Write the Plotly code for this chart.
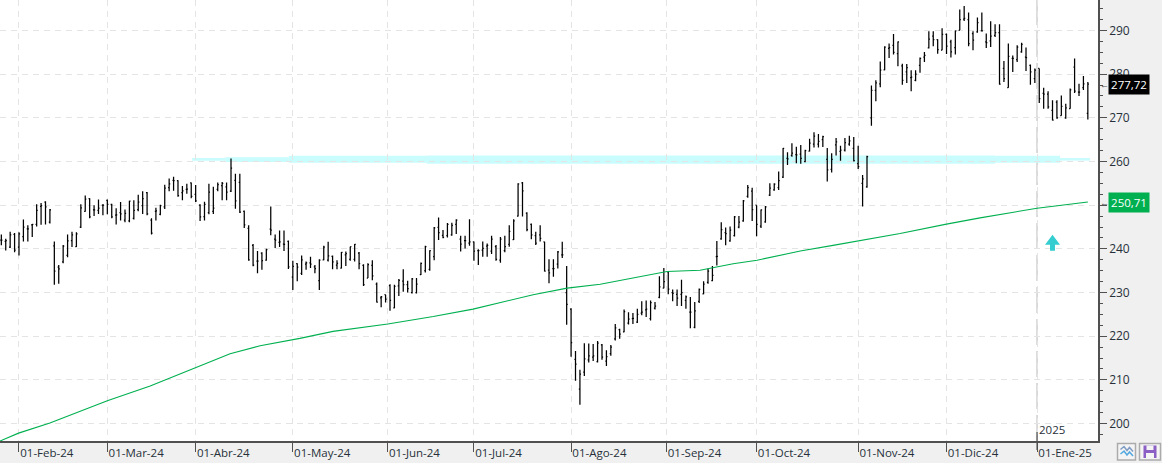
import plotly.graph_objects as go

highs = [
243.3,242.3,243.9,243.6,243.8,246.7,245.4,245.7,250.2,250.5,
250.9,249.1,241.7,236.3,240.9,243.3,243.9,243.8,250.2,252.2,
251.6,250.0,251.3,250.2,251.3,250.3,249.3,250.7,249.0,251.0,
251.1,252.4,253.2,253.0,247.0,249.4,250.1,254.7,256.1,256.5,
255.7,254.4,254.9,255.2,254.6,250.2,250.8,254.9,254.2,255.2,
255.3,255.2,260.7,257.2,257.2,248.8,245.4,241.1,239.5,239.2,
240.0,249.7,243.3,244.2,244.2,241.9,237.3,236.7,238.5,237.1,
238.2,236.3,237.6,240.7,241.6,238.5,237.4,239.3,239.4,240.5,
241.1,239.3,236.5,236.7,237.4,232.3,229.2,229.5,231.9,231.8,
233.1,235.3,232.7,233.3,233.3,236.9,240.7,239.7,245.0,247.2,
244.3,245.9,246.0,246.8,243.0,243.0,246.8,241.7,239.9,241.7,
241.2,243.0,240.9,242.7,243.0,245.4,246.8,255.0,255.3,248.4,
245.8,243.9,245.4,241.6,237.6,237.6,239.5,241.6,236.1,226.4,
216.6,212.3,218.4,218.3,218.2,218.9,218.2,216.8,218.0,222.8,
221.7,226.1,225.5,225.3,226.3,228.0,228.2,228.2,227.8,233.7,
235.6,234.9,230.7,230.7,232.9,229.3,229.0,227.8,230.9,232.6,
235.5,236.1,241.8,246.1,244.9,245.1,247.5,247.5,251.2,254.6,
254.0,250.0,249.0,249.8,255.0,255.0,257.7,263.1,262.1,264.2,
263.4,263.8,262.7,265.2,266.7,266.3,265.9,263.1,261.9,265.4,
263.6,265.4,265.9,265.6,263.6,256.9,261.3,277.4,278.6,282.9,
286.4,287.0,289.2,287.5,282.4,282.3,280.9,280.9,283.8,285.1,
289.8,289.8,288.0,290.5,289.3,287.9,290.0,294.8,295.6,294.1,
289.8,293.0,294.1,289.3,292.1,291.4,291.4,283.0,287.0,284.3,
286.6,287.2,286.1,282.2,281.3,281.3,276.9,276.1,274.0,274.0,
275.1,273.2,276.7,283.6,277.8,279.6,278.2,
]
lows = [
240.8,239.6,240.2,239.2,238.5,241.7,241.7,242.7,245.1,245.5,
245.6,245.8,231.8,232.0,236.7,238.1,240.4,240.4,244.8,248.5,
247.0,247.5,248.0,247.7,247.9,247.0,245.6,246.5,246.1,246.1,
246.7,248.6,248.0,247.7,243.3,246.5,247.7,249.1,253.2,253.3,
251.9,251.1,252.6,251.6,250.7,246.4,246.5,247.9,248.0,253.2,
251.1,251.1,253.0,249.2,248.2,244.8,237.3,236.0,234.4,235.2,
237.3,243.1,240.2,240.4,239.5,235.4,230.6,232.6,234.0,235.2,
235.6,234.4,230.6,237.4,237.1,235.3,235.3,235.5,236.1,237.3,
237.1,235.3,231.5,233.3,232.8,227.7,226.6,227.7,225.8,226.4,
229.2,230.2,230.0,229.8,229.8,234.0,234.6,235.0,237.4,242.0,
242.4,242.6,243.0,243.4,239.4,240.1,240.7,237.3,236.3,238.2,
238.2,238.8,237.3,236.8,239.2,240.5,242.0,247.4,247.4,244.0,
242.2,240.9,241.7,234.8,232.1,233.6,235.5,237.9,222.6,215.3,
209.8,204.3,210.9,214.0,214.3,214.0,214.6,213.2,215.5,219.0,
219.4,220.9,222.7,222.8,223.0,224.8,224.4,223.6,226.1,228.7,
231.0,229.6,228.0,226.9,226.9,226.3,221.8,221.8,227.6,229.6,
232.0,232.6,236.2,242.1,240.8,241.6,242.8,244.7,246.2,251.7,
246.4,242.9,244.8,246.0,252.1,253.3,253.5,256.2,259.2,261.1,
259.6,259.5,259.8,262.3,263.2,263.2,263.3,255.4,257.5,261.4,
260.2,262.3,263.6,260.0,258.3,249.7,254.0,268.2,273.8,277.0,
280.9,283.7,284.5,281.8,277.6,278.0,276.1,278.4,280.3,282.8,
285.9,286.4,284.7,285.5,284.6,283.8,284.5,290.1,292.2,286.4,
285.5,289.5,289.9,286.0,286.2,288.5,277.6,278.2,276.9,280.5,
282.8,284.9,280.7,277.6,278.0,273.4,272.1,272.1,269.4,269.8,
270.5,269.8,272.1,275.7,275.0,276.4,269.6,
]
opens = [
242.0,241.7,240.4,243.3,240.4,242.8,244.6,245.5,245.6,249.7,
250.7,246.1,240.7,235.8,237.0,238.5,241.9,240.5,245.0,248.6,
251.5,248.9,248.8,250.0,251.1,250.2,247.7,248.3,246.6,246.4,
247.0,249.0,249.9,252.9,246.6,248.6,247.9,249.6,254.0,255.7,
255.6,252.9,253.6,255.1,252.5,250.0,247.4,248.3,248.6,253.6,
254.5,254.2,253.2,255.7,255.2,248.6,244.7,240.8,237.2,239.0,
237.4,244.5,242.2,241.5,241.1,241.7,233.5,236.6,234.4,236.5,
236.8,235.9,232.7,237.5,237.4,238.3,236.3,235.6,238.6,237.6,
237.6,239.0,236.2,233.3,236.2,231.9,228.8,229.5,231.6,226.5,
231.5,232.6,231.8,230.0,230.0,234.1,235.0,235.3,238.2,244.9,
243.1,243.0,243.2,245.6,242.2,241.9,241.3,241.6,239.6,239.7,
240.6,239.5,240.5,237.4,239.6,241.0,242.1,247.5,255.1,248.2,
245.6,243.0,243.2,241.6,235.1,235.5,236.5,238.6,230.0,226.2,
214.7,207.9,211.8,214.6,215.2,214.2,218.0,214.3,216.0,219.4,
221.5,221.0,223.0,224.0,223.2,225.3,226.0,224.0,226.4,228.9,
231.0,234.7,230.0,229.6,229.6,228.2,225.5,222.0,228.0,229.7,
232.3,232.7,238.2,242.3,243.7,241.8,243.0,245.0,246.4,252.0,
253.2,250.0,245.2,246.2,252.3,253.5,254.0,256.4,260.7,261.4,
261.6,261.7,260.0,262.4,264.0,264.0,265.0,260.5,258.2,263.8,
262.3,262.6,264.0,263.0,259.5,255.0,254.2,270.0,276.3,277.8,
281.0,285.9,286.6,284.7,281.9,280.5,279.2,278.6,282.0,283.9,
286.0,288.7,287.9,285.5,289.1,287.4,286.1,290.0,292.6,292.5,
289.3,289.7,289.9,287.4,287.6,288.9,289.5,281.3,276.9,283.6,
283.3,285.1,283.9,282.0,279.0,281.3,275.6,275.4,271.7,273.6,
270.5,270.0,272.1,281.6,275.9,276.9,271.0,
]
closes = [
242.0,241.9,243.2,239.7,243.4,245.0,244.6,245.6,248.8,249.9,
249.6,248.9,234.9,235.4,240.6,241.8,243.2,243.4,249.4,251.4,
247.3,248.9,249.3,250.0,250.2,247.3,247.8,248.0,248.1,250.9,
248.8,250.7,251.5,248.0,243.6,248.7,249.9,253.9,254.9,255.6,
252.2,253.3,253.7,252.0,251.0,247.3,250.2,253.0,249.3,254.7,
255.0,253.0,258.5,251.0,248.4,245.5,237.5,236.3,237.2,237.3,
239.8,244.3,242.0,241.6,241.0,235.9,236.0,235.8,237.5,236.8,
236.5,235.5,237.4,240.4,238.4,237.0,236.7,239.2,238.9,240.5,
241.0,236.6,231.8,236.4,233.8,227.8,229.0,228.5,228.2,231.4,
232.8,231.8,230.9,233.1,231.9,236.7,240.5,239.6,244.8,243.7,
242.6,245.6,245.4,246.6,241.1,241.9,241.6,239.5,239.6,240.1,
240.8,242.2,237.6,242.2,240.5,244.0,246.4,254.9,253.3,244.4,
243.2,241.3,242.4,234.9,234.5,235.5,239.3,238.6,227.3,218.5,
213.6,211.3,214.8,215.5,215.5,218.4,215.2,215.3,217.5,221.9,
220.5,225.6,223.9,224.1,225.0,225.5,226.2,227.7,226.9,231.3,
232.5,230.8,229.8,228.7,230.0,229.0,225.5,225.8,230.7,231.9,
234.9,233.9,238.3,244.4,243.5,244.3,247.3,246.1,251.0,254.0,
249.0,245.6,248.9,249.6,253.9,254.8,255.6,263.0,260.6,261.9,
261.5,260.7,262.5,264.2,265.8,264.6,265.7,258.1,260.5,264.5,
262.6,264.3,264.7,260.2,258.8,256.0,261.1,276.3,278.0,280.9,
286.2,286.1,285.0,287.4,278.6,281.5,279.3,280.0,283.6,284.3,
288.0,287.9,285.6,289.1,286.4,285.1,289.9,292.5,292.8,287.0,
287.8,291.8,289.9,287.2,288.7,289.5,277.7,279.0,284.1,283.6,
286.2,286.8,283.8,280.5,280.9,274.4,275.4,272.5,269.5,270.0,
272.6,272.3,276.4,276.1,275.9,277.8,277.72,
]
bar_index = list(range(len(closes)))

ma_index = [-0.3,3.9,11,24,33.7,43.9,51.8,58.6,67.6,75.1,87.5,97.8,106.8,120.4,128.1,135.6,143,
            150.7,158.2,165.7,171.1,180.9,188.3,199,203.5,213.7,221.6,234.5,246]
ma_values = [196.0,197.8,200.1,205.2,208.6,212.7,216.0,217.8,219.5,221.1,222.8,224.5,226.2,229.5,231.0,231.9,233.4,
             234.8,235.1,236.6,237.4,239.5,240.8,242.6,243.5,245.6,247.1,249.3,250.71]

band_edges = [43.2,50.7,65.1,96.4,225,239.7,246.5]
band_top = [260.8,261.0,261.3,261.4,261.3,261.0]
band_bottom = [260.2,259.9,259.7,259.5,259.7,259.9]
band_tail_top = 260.8
band_tail_bottom = 260.2

month_ticks = [4,24,44,66,87.5,107,129,150.6,171,194,214,234.5]
month_labels = ["01-Feb-24","01-Mar-24","01-Abr-24","01-May-24","01-Jun-24","01-Jul-24","01-Ago-24",
                "01-Sep-24","01-Oct-24","01-Nov-24","01-Dic-24","01-Ene-25"]
price_ticks = [200,210,220,230,240,250,260,270,280,290]
last_price = 277.72
last_ma = 250.71

W, H, PW, PH = 1162, 463, 1098, 441
FONT = "Open Sans"
px = lambda v: v / PW
py = lambda v: (PH - v) / PH

shapes = []
for i in range(len(band_top)):
    shapes.append(dict(type="rect", xref="x", yref="y", x0=band_edges[i], x1=band_edges[i + 1],
                       y0=band_bottom[i], y1=band_top[i],
                       fillcolor="#c9fcfd", line_width=0, layer="below"))
shapes[-1].update(y0=band_tail_bottom, y1=band_tail_top)
# year boundary
shapes.append(dict(type="line", xref="x", yref="paper", x0=month_ticks[-1], x1=month_ticks[-1], y0=0, y1=1,
                   line=dict(color="#cfcfcf", width=1.5, dash="26px,6px"), layer="below"))
shapes.append(dict(type="line", xref="x", yref="paper", x0=month_ticks[-1], x1=month_ticks[-1], y0=py(450), y1=py(432),
                   line=dict(color="#505050", width=1.2)))
# signal arrow
shapes.append(dict(type="path", xref="x", yref="y", xsizemode="pixel", ysizemode="pixel",
                   xanchor=238, yanchor=241.4,
                   path="M 0 8 L 7.5 -2 L 2.5 -2 L 2.5 -8 L -2.5 -8 L -2.5 -2 L -7.5 -2 Z",
                   fillcolor="#35cdd0", line_width=0))
# toolbar buttons
def box(x0, y0, x1, y1, **kw):
    shapes.append(dict(type="rect", xref="paper", yref="paper", x0=px(x0), x1=px(x1), y0=py(y0), y1=py(y1), **kw))
box(1117.5, 443.5, 1135.5, 460, fillcolor="#f4f4f4", line=dict(color="#ababab", width=1.5))
box(1139.5, 443.5, 1160.5, 460, fillcolor="#f4f4f4", line=dict(color="#ababab", width=1.5))
box(1143.5, 445.5, 1156.5, 458, fillcolor="#8b5fc4", line_width=0)
box(1146.5, 445.5, 1153.5, 450, fillcolor="#f4f4f4", line_width=0)
box(1146, 453, 1154, 458, fillcolor="#f4f4f4", line_width=0)
for offs, col in ((448.5, "#7f9cc4"), (453, "#53a8e0")):
    pts = [(1120.5, offs + 1), (1124, offs - 2), (1127, offs + 2), (1129.5, offs - 1), (1133, offs + 3)]
    path = "M " + " L ".join(f"{px(a):.5f} {py(b):.5f}" for a, b in pts)
    shapes.append(dict(type="path", xref="paper", yref="paper", path=path, line=dict(color=col, width=1.5)))

fig = go.Figure()
fig.add_trace(go.Ohlc(x=bar_index, open=opens, high=highs, low=lows, close=closes, tickwidth=0.25,
                      increasing_line=dict(color="#000000", width=1.25),
                      decreasing_line=dict(color="#000000", width=1.25),
                      hoverinfo="skip", showlegend=False))
fig.add_trace(go.Scatter(x=ma_index, y=ma_values, mode="lines", line=dict(color="#00b050", width=1.1),
                         hoverinfo="skip", showlegend=False))

fig.update_layout(
    width=W, height=H, margin=dict(l=0, r=W - PW, t=0, b=H - PH),
    paper_bgcolor="#f0f0f0", plot_bgcolor="#ffffff", showlegend=False,
    font=dict(family=FONT, size=12, color="#27303a"),
    shapes=shapes,
    xaxis=dict(range=[-0.3, 248.3], rangeslider=dict(visible=False), tickmode="array",
               tickvals=month_ticks, ticktext=month_labels, ticks="outside", ticklen=9, tickwidth=1,
               tickcolor="#505050", ticklabelposition="outside right", tickfont=dict(size=11.5),
               showgrid=True, gridcolor="#e4e4e4", griddash="6px,5px", gridwidth=1.2,
               showline=True, linecolor="#505050", linewidth=1.5, zeroline=False),
    yaxis=dict(side="right", range=[196.0, 296.98], tickmode="array", tickvals=price_ticks,
               ticks="outside", ticklen=7, tickwidth=1.2, tickcolor="#505050",
               minor=dict(dtick=2.5, tick0=0, ticks="outside", ticklen=3, tickwidth=1.2,
                          tickcolor="#505050", showgrid=False),
               showgrid=True, gridcolor="#e4e4e4", griddash="6px,5px", gridwidth=1.2,
               showline=True, linecolor="#505050", linewidth=1.5, zeroline=False),
    annotations=[
        dict(text="2025", xref="x", yref="paper", x=month_ticks[-1], y=py(439), xanchor="left", yanchor="bottom",
             showarrow=False, font=dict(size=11.5)),
        dict(text=f"{last_price:.2f}".replace(".", ","), xref="paper", yref="y", x=px(1128.5), y=last_price, xanchor="center",
             showarrow=False, bgcolor="#000000", width=40, height=19, borderpad=0, font=dict(color="#ffffff", size=11.5)),
        dict(text=f"{last_ma:.2f}".replace(".", ","), xref="paper", yref="y", x=px(1128.5), y=last_ma, xanchor="center",
             showarrow=False, bgcolor="#00b050", width=40, height=19, borderpad=0, font=dict(color="#ffffff", size=11.5)),
        dict(text="←", xref="paper", yref="y", x=px(1104), y=last_price, xanchor="center", showarrow=False, font=dict(size=9, color="#505050")),
        dict(text="←", xref="paper", yref="y", x=px(1104), y=last_ma, xanchor="center", showarrow=False, font=dict(size=9, color="#505050")),
    ],
)
fig.write_html("out.html", post_script="document.body.style.margin='0';document.body.style.background='#f0f0f0';",
               config=dict(displayModeBar=False))
